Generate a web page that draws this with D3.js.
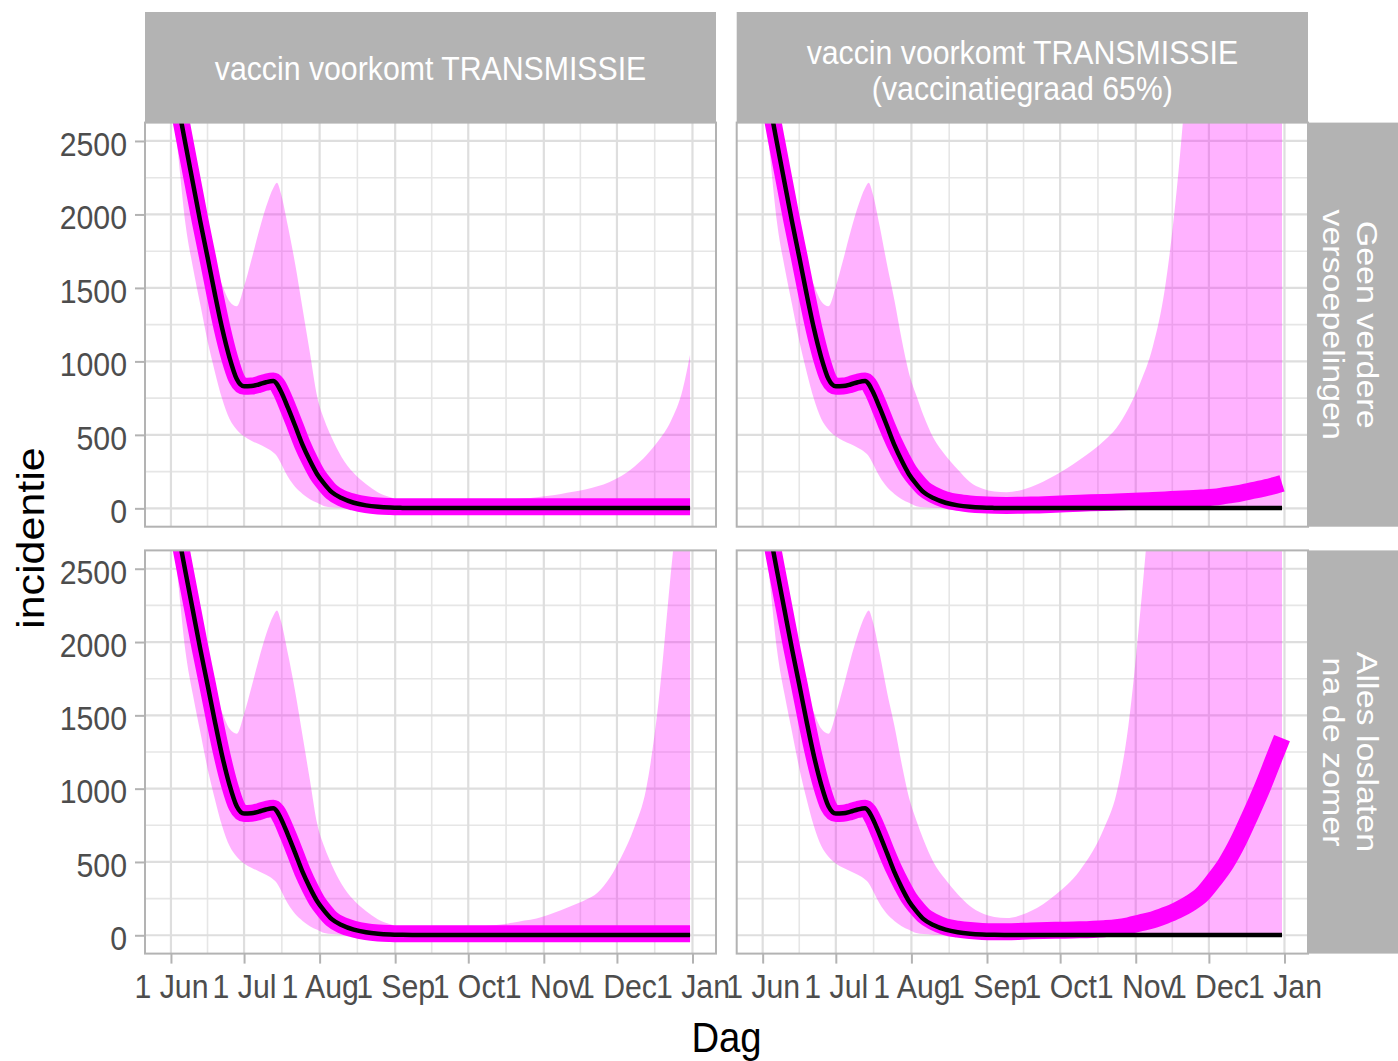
<!DOCTYPE html>
<html>
<head>
<meta charset="utf-8">
<script src="https://cdn.jsdelivr.net/npm/d3@7"></script>
<style>
  body { margin: 0; background: #ffffff; }
  svg { display: block; }
  text { font-family: "Liberation Sans", Arial, Helvetica, sans-serif; }
</style>
</head>
<body>
<svg id="chart" width="1398" height="1061"></svg>
<script>
// ---------------- DATA ----------------
// days since 1 June 2021
const days = [0,3,6,9,12,15,18,21,24,27, 30,33,36,39,42,43.5,45,48,51,54,
              57,60,63,66,70,75,80,85,90,95, 100,110,120,130,140,145,150,155,160,165,
              170,175,180,185,190,195,200,205,210,213];

// black line (shared by all panels)
const blackLine = [3050,2745,2475,2215,1955,1710,1460,1225,1028,880, 830,832,843,858,866,845,800,685,560,432,
                   325,232,165,110,70,38,20,10,5,3, 2,2,2,2,2,2,2,2,2,2,
                   2,2,2,2,2,2,2,2,2,2];

// magenta lines
const magentaLeft = [3050,2745,2475,2215,1955,1710,1460,1225,1028,880, 830,832,843,858,866,845,800,685,560,432,
                     325,232,165,110,70,42,25,16,12,10, 10,10,10,10,10,10,10,10,10,10,
                     10,10,10,10,10,10,10,10,10,10];
const magentaTR = [3050,2745,2475,2215,1955,1710,1460,1225,1028,880, 830,832,843,858,866,845,800,685,560,445,
                   345,255,190,135,92,58,40,30,24,21, 20,22,28,35,40,43,46,50,53,57,
                   62,66,70,76,88,100,118,135,155,170];
const magentaBR = [3050,2745,2475,2215,1955,1710,1460,1225,1028,880, 830,832,843,858,866,845,800,685,560,445,
                   345,255,190,135,92,58,42,32,26,24, 24,30,34,37,45,52,65,85,105,135,
                   170,215,275,375,490,640,820,1010,1220,1345];

// ribbon lower bound (shared)
const lowerBand = [2900,2400,1930,1640,1390,1140,930,745,610,535, 490,460,437,412,380,355,310,215,145,98,
                   62,38,15,8,4,2,1,0,0,0, 0,0,0,0,0,0,0,0,0,0,
                   0,0,0,0,0,0,0,0,0,0];

// ribbon upper bounds per panel
const upperTL = [3300,3020,2760,2480,2080,1780,1640,1520,1410,1375, 1510,1690,1880,2050,2180,2215,2150,1920,1660,1360,
                 1060,760,600,480,350,240,165,108,75,55, 50,48,50,55,62,68,76,86,98,112,
                 128,150,180,222,282,360,460,590,810,1045];
const upperBL = [3300,3020,2760,2480,2080,1780,1640,1520,1410,1375, 1510,1690,1880,2050,2180,2215,2150,1920,1660,1360,
                 1060,760,600,480,350,240,165,108,75,55, 50,48,50,65,85,100,115,140,170,205,
                 240,290,390,540,730,1000,1580,2450,3300,3900];
const upperTR = [3300,3020,2760,2480,2080,1780,1640,1520,1410,1375, 1510,1690,1880,2050,2180,2215,2150,1920,1660,1420,
                 1150,920,770,630,480,360,265,180,135,115, 110,145,225,330,460,545,680,860,1100,1500,
                 2200,3200,4500,6000,8000,10000,12000,14000,16000,17000];
const upperBR = [3300,3020,2760,2480,2080,1780,1640,1520,1410,1375, 1510,1690,1880,2050,2180,2215,2150,1920,1660,1430,
                 1170,940,785,650,500,380,280,200,150,125, 118,165,275,440,730,960,1430,2230,3200,4300,
                 5500,7000,8500,10000,12000,14000,16000,18000,20000,21000];

const yTicks = [0, 500, 1000, 1500, 2000, 2500];
const yMinor = [250, 750, 1250, 1750, 2250];
const xTickLabels = ["1 Jun","1 Jul","1 Aug","1 Sep","1 Oct","1 Nov","1 Dec","1 Jan"];
const colStrips = [["vaccin voorkomt TRANSMISSIE"], ["vaccin voorkomt TRANSMISSIE", "(vaccinatiegraad 65%)"]];
const rowStrips = [["Geen verdere", "versoepelingen"], ["Alles loslaten", "na de zomer"]];
const xTitle = "Dag";
const yTitle = "incidentie";

// ---------------- LAYOUT ----------------
const K = 0.89; // horizontal squeeze of the lettering in the reference
const colX = [[145, 716], [736.7, 1308]];
const rowY = [[122.6, 526.7], [550.4, 953.6]];
const stripTop = 12, stripRight = 1398;
const FS = 34, TFS = 43;

const svg = d3.select("#chart");
const start = Date.UTC(2021, 5, 1);
const toDate = d => new Date(start + d * 864e5);
const dates = days.map(toDate);
const ext = d3.extent(dates).map(Number);
const pad = (ext[1] - ext[0]) * 0.05;
const xDomain = [new Date(ext[0] - pad), new Date(ext[1] + pad)];
const yDomain = [0 - 0.05 * 2500, 2500 + 0.05 * 2500];
const monthTicks = d3.utcMonth.range(new Date(Date.UTC(2021, 5, 1)), new Date(Date.UTC(2022, 0, 2)));

function squeeze(sel) {
  sel.each(function () {
    const t = d3.select(this);
    const x = +t.attr("x") || 0, y = +t.attr("y") || 0;
    t.attr("x", null).attr("y", null)
     .attr("transform", `translate(${x},${y}) scale(${K},1)`);
  });
}

const panelDefs = [
  {row: 0, col: 0, upper: upperTL, magenta: magentaLeft},
  {row: 0, col: 1, upper: upperTR, magenta: magentaTR},
  {row: 1, col: 0, upper: upperBL, magenta: magentaLeft},
  {row: 1, col: 1, upper: upperBR, magenta: magentaBR}
];

const defs = svg.append("defs");

panelDefs.forEach((p, i) => {
  const [x0, x1] = colX[p.col];
  const [y0, y1] = rowY[p.row];
  const x = d3.scaleUtc().domain(xDomain).range([x0, x1]);
  const y = d3.scaleLinear().domain(yDomain).range([y1, y0]);
  const g = svg.append("g");

  g.append("rect").attr("x", x0).attr("y", y0).attr("width", x1 - x0).attr("height", y1 - y0).attr("fill", "#ffffff");

  // minor grid
  const xMaj = monthTicks.map(d => x(d));
  const xMin = xMaj.slice(1).map((v, k) => (v + xMaj[k]) / 2);
  g.selectAll(null).data(xMin).join("line")
    .attr("x1", d => d).attr("x2", d => d).attr("y1", y0).attr("y2", y1)
    .attr("stroke", "#e6e6e6").attr("stroke-width", 1.6);
  g.selectAll(null).data(yMinor).join("line")
    .attr("x1", x0).attr("x2", x1).attr("y1", d => y(d)).attr("y2", d => y(d))
    .attr("stroke", "#e6e6e6").attr("stroke-width", 1.6);
  // major grid
  g.selectAll(null).data(monthTicks).join("line")
    .attr("x1", d => x(d)).attr("x2", d => x(d)).attr("y1", y0).attr("y2", y1)
    .attr("stroke", "#dedede").attr("stroke-width", 2.2);
  g.selectAll(null).data(yTicks).join("line")
    .attr("x1", x0).attr("x2", x1).attr("y1", d => y(d)).attr("y2", d => y(d))
    .attr("stroke", "#dedede").attr("stroke-width", 2.2);

  defs.append("clipPath").attr("id", "clip" + i).append("rect")
    .attr("x", x0).attr("y", y0).attr("width", x1 - x0).attr("height", y1 - y0);
  const dg = g.append("g").attr("clip-path", `url(#clip${i})`);

  const rows = days.map((d, j) => ({date: dates[j], lo: lowerBand[j], hi: p.upper[j], m: p.magenta[j], b: blackLine[j]}));

  dg.append("path").datum(rows)
    .attr("d", d3.area().x(d => x(d.date)).y0(d => y(d.lo)).y1(d => y(d.hi)).curve(d3.curveMonotoneX))
    .attr("fill", "#ff00ff").attr("fill-opacity", 0.3);
  dg.append("path").datum(rows)
    .attr("d", d3.line().x(d => x(d.date)).y(d => y(d.m)).curve(d3.curveMonotoneX))
    .attr("fill", "none").attr("stroke", "#ff00ff").attr("stroke-width", 17).attr("stroke-linejoin", "round");
  dg.append("path").datum(rows)
    .attr("d", d3.line().x(d => x(d.date)).y(d => y(d.b)).curve(d3.curveMonotoneX))
    .attr("fill", "none").attr("stroke", "#000000").attr("stroke-width", 4.5).attr("stroke-linejoin", "round");

  g.append("rect").attr("x", x0).attr("y", y0).attr("width", x1 - x0).attr("height", y1 - y0)
    .attr("fill", "none").attr("stroke", "#b3b3b3").attr("stroke-width", 2);

  // axes
  if (p.col === 0) {
    const ax = svg.append("g").attr("transform", `translate(${x0},0)`)
      .call(d3.axisLeft(y).tickValues(yTicks).tickFormat(d3.format("d")).tickSize(10).tickPadding(8));
    ax.select(".domain").remove();
    ax.selectAll(".tick line").attr("stroke", "#b3b3b3").attr("stroke-width", 2);
    ax.selectAll(".tick text").attr("fill", "#4d4d4d").attr("font-size", FS).attr("dy", "0.42em")
      .attr("font-family", "Liberation Sans, Arial, sans-serif").call(squeeze);
  }
  if (p.row === 1) {
    const ax = svg.append("g").attr("transform", `translate(0,${y1})`)
      .call(d3.axisBottom(x).tickValues(monthTicks).tickSize(10).tickPadding(10)
        .tickFormat((d, k) => xTickLabels[k]));
    ax.select(".domain").remove();
    ax.selectAll(".tick line").attr("stroke", "#b3b3b3").attr("stroke-width", 2);
    ax.selectAll(".tick text").attr("fill", "#4d4d4d").attr("font-size", FS)
      .attr("font-family", "Liberation Sans, Arial, sans-serif").call(squeeze);
  }
});

// column strips (top)
colX.forEach(([x0, x1], c) => {
  svg.append("rect").attr("x", x0).attr("y", stripTop).attr("width", x1 - x0).attr("height", rowY[0][0] - stripTop)
    .attr("fill", "#b3b3b3");
  const lines = colStrips[c];
  const cx = (x0 + x1) / 2;
  const base = lines.length === 1 ? [80] : [64, 100];
  lines.forEach((t, k) => {
    svg.append("text").attr("transform", `translate(${cx},${base[k]}) scale(${K},1)`)
      .attr("text-anchor", "middle").attr("fill", "#ffffff").attr("font-size", FS).text(t);
  });
});

// row strips (right)
rowY.forEach(([y0, y1], r) => {
  const x0 = colX[1][1];
  svg.append("rect").attr("x", x0).attr("y", y0).attr("width", stripRight - x0).attr("height", y1 - y0)
    .attr("fill", "#b3b3b3");
  const cy = (y0 + y1) / 2;
  const base = [1357, 1323];
  rowStrips[r].forEach((t, k) => {
    svg.append("text").attr("transform", `translate(${base[k]},${cy}) scale(${K},1) rotate(90)`)
      .attr("text-anchor", "middle").attr("fill", "#ffffff").attr("font-size", FS).text(t);
  });
});

// axis titles
svg.append("text").attr("transform", `translate(${(colX[0][0] + colX[1][1]) / 2},1052) scale(${K},1)`)
  .attr("text-anchor", "middle").attr("fill", "#000000").attr("font-size", TFS).text(xTitle);
svg.append("text").attr("transform", `translate(44,${(rowY[0][0] + rowY[1][1]) / 2}) scale(${K},1) rotate(-90)`)
  .attr("text-anchor", "middle").attr("fill", "#000000").attr("font-size", TFS).text(yTitle);
</script>
</body>
</html>
